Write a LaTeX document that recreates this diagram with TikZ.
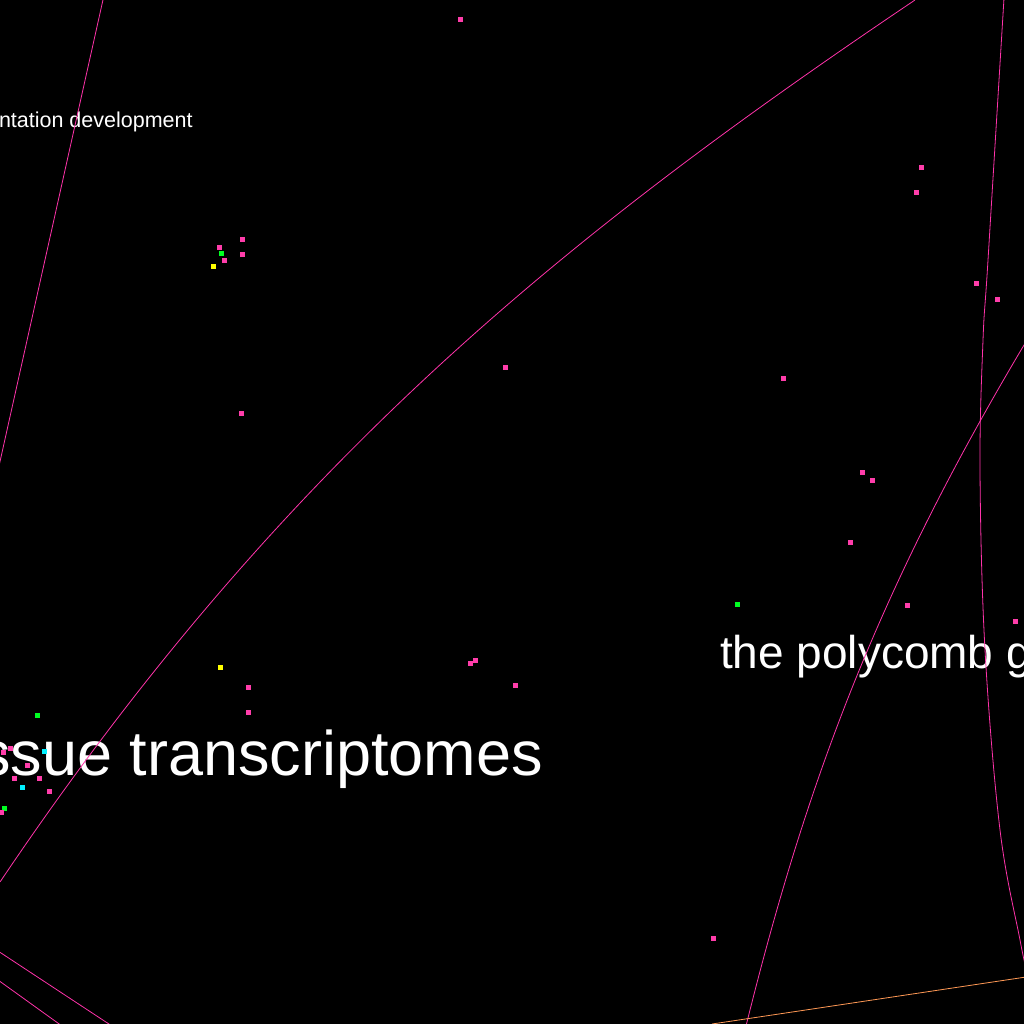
\documentclass[tikz,border=0pt]{standalone}
\usepackage{fontspec}
\setmainfont{Liberation Sans}
\definecolor{pinkline}{HTML}{FF33AA}
\definecolor{pinkdot}{HTML}{FF3DAA}
\definecolor{greendot}{HTML}{00FF22}
\definecolor{yellowdot}{HTML}{FFFF00}
\definecolor{cyandot}{HTML}{00F0FF}
\definecolor{orangeline}{HTML}{FF9955}
\tikzset{
  edge/.style={draw=pinkline, line width=0.8pt},
  edgeo/.style={draw=orangeline, line width=0.8pt},
  label/.style={text=white, inner sep=0pt, outer sep=0pt},
  dot/.style={rectangle, inner sep=0pt, minimum size=5pt},
}
\newcommand{\mypdot}[2]{\node[dot, fill=pinkdot] at (#1,#2) {};}
\newcommand{\mygdot}[2]{\node[dot, fill=greendot] at (#1,#2) {};}
\newcommand{\myydot}[2]{\node[dot, fill=yellowdot] at (#1,#2) {};}
\newcommand{\mycdot}[2]{\node[dot, fill=cyandot] at (#1,#2) {};}
\begin{document}
\begin{tikzpicture}[x=1pt,y=-1pt]
\useasboundingbox (0,0) rectangle (1024,1024);
\fill[black] (0,0) rectangle (1024,1024);
\clip (0,0) rectangle (1024,1024);
% texts
\node[label, anchor=base west, font=\fontsize{21.5}{24}\selectfont] (t1) at (-1,128) {ntation development};
\node[label, anchor=base east, font=\fontsize{63}{70}\selectfont] (t2) at (543,775) {ssue transcriptomes};
\node[label, anchor=base west, font=\fontsize{46}{52}\selectfont] (t3) at (720,668) {the polycomb g};
% curves
\draw[edge] (103.4,-2) -- (-3,475);
\draw[edge] (915,0) .. controls (560,239) and (280,466) .. (0,882);
\draw[edge] plot[smooth, tension=0.6] coordinates {(1004,-2) (988,260) (983,340) (980,470) (985,650) (1000,830) (1020,940) (1026,968)};
\draw[edge] (1030,335) .. controls (880,585) and (808,776) .. (746,1026);
\draw[edgeo] (712,1024) -- (1026,977);
\draw[edge] (-2,951) -- (112,1026);
\draw[edge] (-2,980) -- (62,1026);
% dots
\mypdot{460}{20}
\mypdot{921}{168}
\mypdot{916}{193}
\mypdot{242}{239}
\mypdot{219}{247}
\mypdot{242}{254}
\mypdot{224}{260}
\mygdot{221}{253}
\myydot{213}{266}
\mypdot{976}{283}
\mypdot{997}{299}
\mypdot{505}{367}
\mypdot{783}{378}
\mypdot{241}{413}
\mypdot{862}{472}
\mypdot{872}{480}
\mypdot{850}{542}
\mygdot{737}{604}
\mypdot{907}{605}
\mypdot{1015}{621}
\mypdot{475}{660}
\mypdot{470}{663}
\myydot{220}{667}
\mypdot{515}{685}
\mypdot{248}{687}
\mypdot{248}{712}
\mypdot{713}{938}
\mygdot{37}{715}
\mypdot{3}{752}
\mypdot{10}{748}
\mycdot{44}{751}
\mypdot{27}{765}
\mypdot{14}{778}
\mypdot{39}{778}
\mycdot{22}{787}
\mypdot{49}{791}
\mygdot{4}{808}
\mypdot{1}{812}
\end{tikzpicture}
\end{document}
